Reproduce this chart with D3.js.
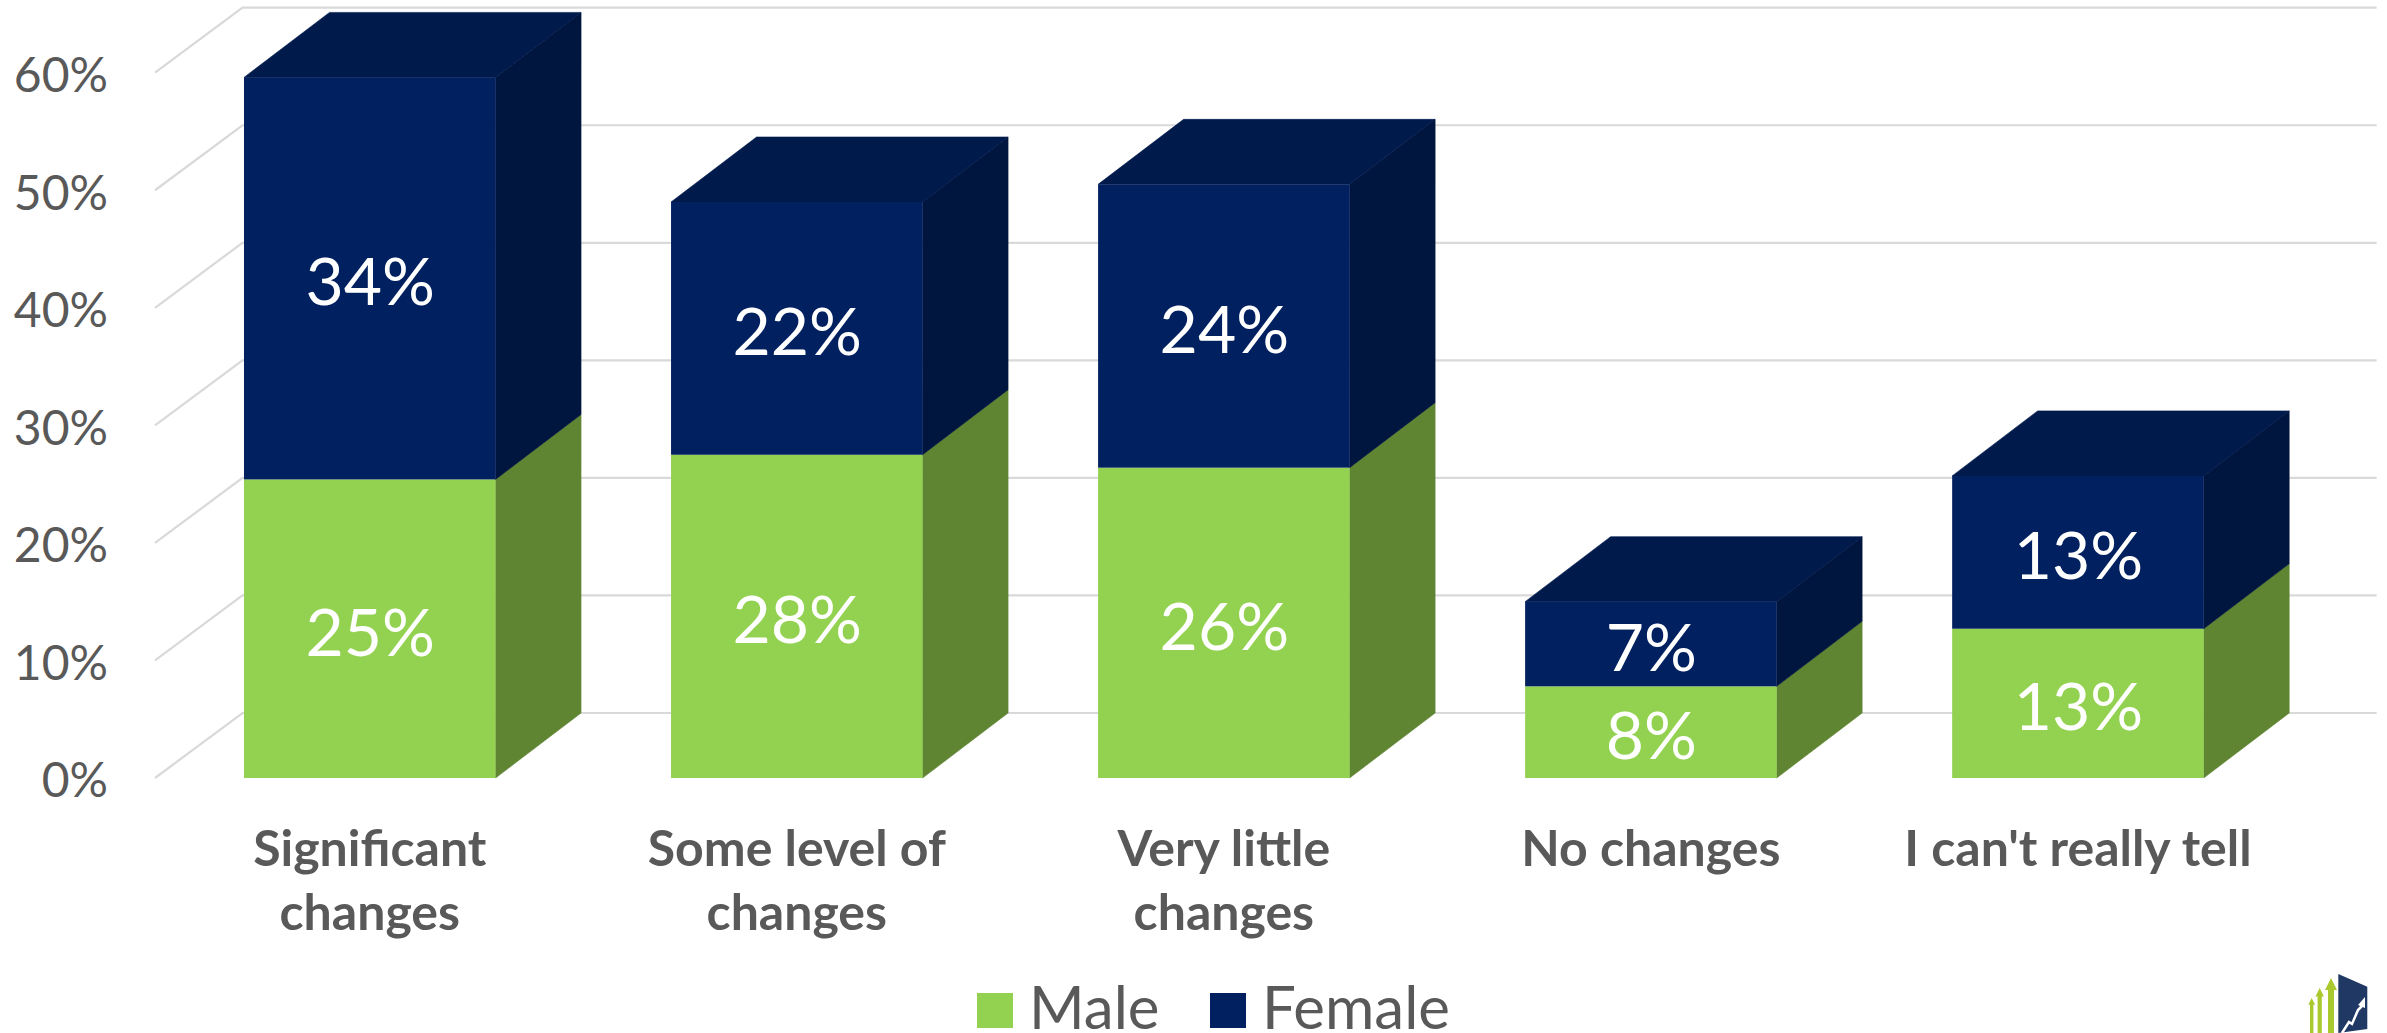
<!DOCTYPE html>
<html>
<head>
<meta charset="utf-8">
<script src="https://cdn.jsdelivr.net/npm/d3@7"></script>
<style>
html,body{margin:0;padding:0;background:#fff;overflow:hidden}
svg{display:block}
text{font-family:Lato,"Open Sans",sans-serif}
</style>
</head>
<body>
<svg id="chart" width="2387" height="1033"></svg>
<script>
const categories = ["Significant changes","Some level of changes","Very little changes","No changes","I can't really tell"];
const seriesNames = ["Male","Female"];
const maleValues = [25.4,27.5,26.4,7.8,12.7];
const femaleValues = [34.2,21.5,24.1,7.2,13.0];
const maleLabels = ["25%","28%","26%","8%","13%"];
const femaleLabels = ["34%","22%","24%","7%","13%"];
const yTicks = [0,10,20,30,40,50,60];

const depthX = 85.5, depthY = 65;
const colors = {
  Male:{front:"#92d250",side:"#5f8532",top:"#5f8532"},
  Female:{front:"#012060",side:"#01163f",top:"#011a4c"}
};
const svg = d3.select("#chart");
const x = d3.scaleBand().domain(categories).range([158.6,2289.1]).paddingInner(0.411).paddingOuter(0.2);
const y = d3.scaleLinear().domain([0,60]).range([778,72.7]);
const x0 = x.range()[0], x1 = x.range()[1];

// wall + floor gridlines
const grid = svg.append("g").attr("fill","none").attr("stroke","#d9d9d9").attr("stroke-width",2.2);
grid.selectAll("path").data(yTicks).join("path")
  .attr("d", t => { const p=d3.path(); p.moveTo(x0-3.6,y(t)); p.lineTo(x0-3.6+depthX+2,y(t)-depthY); p.lineTo(x1+depthX+2,y(t)-depthY); return p.toString(); });

// y axis labels
const axis = svg.append("g").attr("transform","translate(108,3.5)")
  .call(d3.axisLeft(y).tickValues(yTicks).tickSize(0).tickPadding(0).tickFormat(d=>d+"%"));
axis.select(".domain").remove();
axis.selectAll("text").attr("font-size",48).attr("fill","#595959").style("font-family","Lato");

// stacked 3D bars
const rows = categories.map((c,i)=>({c,Male:maleValues[i],Female:femaleValues[i],ml:maleLabels[i],fl:femaleLabels[i]}));
const stack = d3.stack().keys(seriesNames)(rows);
const poly = pts => pts.map(p=>p.join(",")).join(" ");
const bars = svg.append("g");
stack.forEach(layer=>{
  const name = layer.key, col = colors[name];
  const g = bars.append("g").attr("class","series-"+name);
  g.selectAll("polygon.side").data(layer).join("polygon").attr("class","side")
    .attr("fill",col.side).attr("stroke",col.side).attr("stroke-width",0.6)
    .attr("points",d=>{const r=x(d.data.c)+x.bandwidth();return poly([[r,y(d[0])],[r+depthX,y(d[0])-depthY],[r+depthX,y(d[1])-depthY],[r,y(d[1])]]);});
  if(name==="Female"){
    g.selectAll("polygon.top").data(layer).join("polygon").attr("class","top")
      .attr("fill",col.top).attr("stroke",col.top).attr("stroke-width",0.6)
      .attr("points",d=>{const l=x(d.data.c),r=l+x.bandwidth(),t=y(d[1]);return poly([[l,t],[l+depthX,t-depthY],[r+depthX,t-depthY],[r,t]]);});
  }
  g.selectAll("rect.front").data(layer).join("rect").attr("class","front")
    .attr("fill",col.front)
    .attr("x",d=>x(d.data.c)).attr("width",x.bandwidth())
    .attr("y",d=>y(d[1])).attr("height",d=>y(d[0])-y(d[1]));
  g.selectAll("text").data(layer).join("text")
    .attr("x",d=>x(d.data.c)+x.bandwidth()/2+0.5)
    .attr("y",d=>(y(d[0])+y(d[1]))/2+27)
    .attr("text-anchor","middle").attr("fill","#fff").attr("font-size",66)
    .text(d=>name==="Male"?d.data.ml:d.data.fl);
});

// category labels, wrapped
const labelBase = 866;
const labelG = svg.append("g").attr("fill","#595959").attr("font-size",50).attr("font-weight",700).attr("text-anchor","middle");
const lineH = 64, wrapW = 380;
categories.forEach(c=>{
  const t = labelG.append("text").attr("x",x(c)+x.bandwidth()/2).attr("y",labelBase);
  let line=[], n=0;
  let ts = t.append("tspan").attr("x",t.attr("x")).attr("y",labelBase);
  c.split(" ").forEach(w=>{
    line.push(w); ts.text(line.join(" "));
    if(ts.node().getComputedTextLength()>wrapW){
      line.pop(); ts.text(line.join(" ")); line=[w]; n++;
      ts = t.append("tspan").attr("x",t.attr("x")).attr("y",labelBase+n*lineH).text(w);
    }
  });
});

// legend
const legendX = d3.scaleOrdinal().domain(seriesNames).range([977,1210]);
const legend = svg.append("g");
seriesNames.forEach(n=>{
  legend.append("rect").attr("x",legendX(n)).attr("y",993).attr("width",36).attr("height",35).attr("fill",colors[n].front);
  legend.append("text").attr("x",legendX(n)+52).attr("y",1029).attr("font-size",60).attr("fill","#595959").text(n);
});

// small logo in the corner
const logo = svg.append("g");
[[2311.7,998,1.7],[2319.7,988,2.1],[2331,978,3]].forEach(a=>{
  const [cx,tip,hw]=a;
  logo.append("path").attr("fill","#a9c92f")
    .attr("d",`M${cx},${tip}L${cx+hw*2},${tip+hw*4}L${cx+hw},${tip+hw*4}L${cx+hw},1033L${cx-hw},1033L${cx-hw},${tip+hw*4}L${cx-hw*2},${tip+hw*4}Z`);
});
logo.append("path").attr("fill","#1f3864").attr("d","M2338.3,974L2367.3,986.7L2367.3,1029L2338.3,1033Z");
logo.append("path").attr("fill","none").attr("stroke","#fff").attr("stroke-width",2.5)
  .attr("d","M2342,1033L2349,1022L2352,1024L2358,1010L2362,1006");
logo.append("path").attr("fill","#fff").attr("d","M2365,997L2365,1008L2358,1005Z");
</script>
</body>
</html>
